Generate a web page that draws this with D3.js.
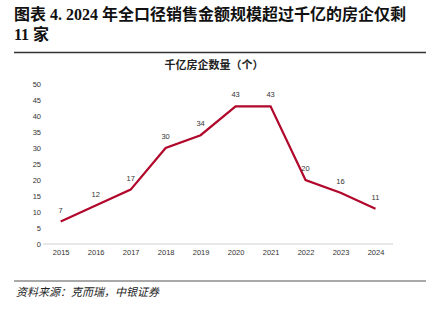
<!DOCTYPE html>
<html><head><meta charset="utf-8">
<script src="https://cdn.jsdelivr.net/npm/d3@7"></script>
<style>body{margin:0;background:#fff}svg{display:block}</style>
</head><body>
<svg id="c" width="426" height="322"></svg>
<script>
const years = ["2015","2016","2017","2018","2019","2020","2021","2022","2023","2024"];
const counts = [7,12,17,30,34,43,43,20,16,11];
const yTicks = [0,5,10,15,20,25,30,35,40,45,50];

const svg = d3.select("#c");
const serif = "'Liberation Serif','Noto Sans CJK SC',serif";
const cjk = "'Noto Sans CJK SC',sans-serif";
const sans = "'Liberation Sans',Arial,sans-serif";

// Title
svg.append("text").attr("x",14).attr("y",20).attr("font-size",16).attr("font-weight","bold").attr("fill","#111").attr("font-family",serif)
  .text("图表 4. 2024 年全口径销售金额规模超过千亿的房企仅剩");
svg.append("text").attr("x",14).attr("y",40).attr("font-size",16).attr("font-weight","bold").attr("fill","#111").attr("font-family",serif).text("11 家");
svg.append("line").attr("x1",14).attr("x2",426).attr("y1",52.5).attr("y2",52.5).attr("stroke","#333").attr("stroke-width",1.5);

// Subtitle
svg.append("text").attr("x",214).attr("y",69).attr("text-anchor","middle").attr("font-size",11).attr("font-weight","bold").attr("fill","#222").attr("font-family",cjk).text("千亿房企数量（个）");

const x = d3.scalePoint().domain(years).range([60.7,375.5]);
const y = d3.scaleLinear().domain([0,50]).range([244,84]);

// x axis line
svg.append("line").attr("x1",43).attr("x2",393).attr("y1",y(0)).attr("y2",y(0)).attr("stroke","#e8e8e8").attr("stroke-width",2);

const yAx = svg.append("g").attr("transform","translate(41,0)").call(d3.axisLeft(y).tickValues(yTicks).tickSize(0).tickPadding(0));
yAx.select(".domain").remove();
yAx.selectAll("text").attr("font-family",sans).attr("font-size",7.5).attr("fill","#333");

const xAx = svg.append("g").attr("transform","translate(0,248)").call(d3.axisBottom(x).tickSize(0).tickPadding(0));
xAx.select(".domain").remove();
xAx.selectAll("text").attr("font-family",sans).attr("font-size",7.5).attr("fill","#333").attr("dy","0.9em");

const line = d3.line().x((d,i)=>x(years[i])).y(d=>y(d));
svg.append("path").datum(counts).attr("d",line).attr("fill","none").attr("stroke","#b0072a").attr("stroke-width",2.2).attr("stroke-linejoin","miter");

svg.append("g").selectAll("text").data(counts).join("text")
  .attr("x",(d,i)=>x(years[i])).attr("y",d=>y(d)-9)
  .attr("text-anchor","middle").attr("font-family",sans).attr("font-size",7.5).attr("fill","#333").text(d=>d);

// bottom rule and source
svg.append("line").attr("x1",14).attr("x2",426).attr("y1",281).attr("y2",281).attr("stroke","#555").attr("stroke-width",1.2);
svg.append("text").attr("x",16).attr("y",296).attr("font-size",11).attr("font-style","italic").attr("fill","#222").attr("font-family",serif).text("资料来源：克而瑞，中银证券");
</script>
</body></html>
